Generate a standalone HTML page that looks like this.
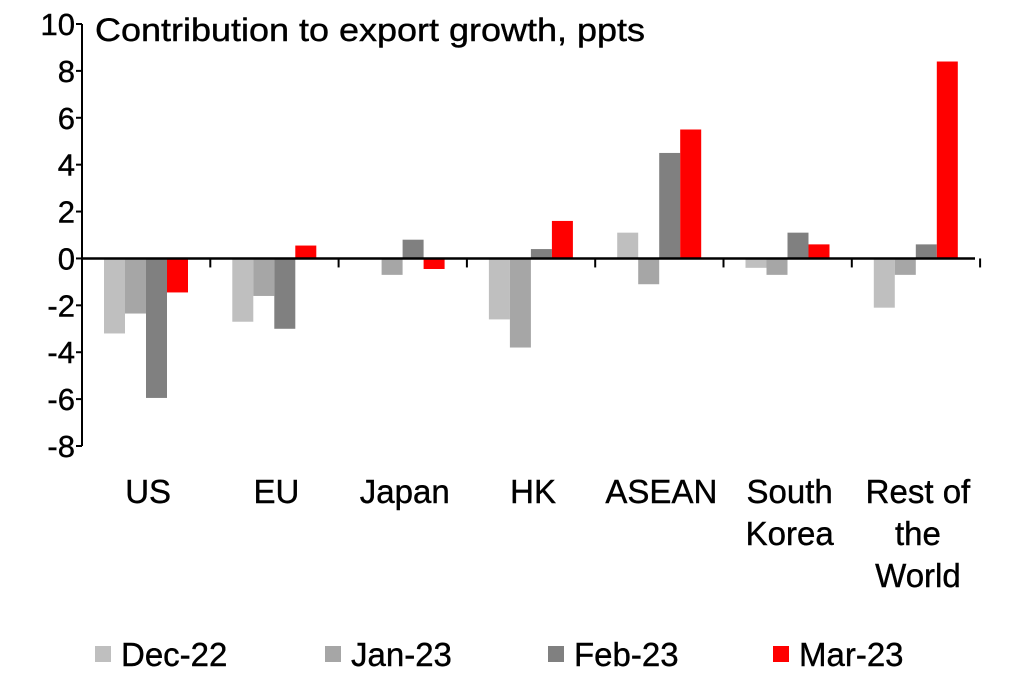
<!DOCTYPE html>
<html><head><meta charset="utf-8"><style>
body{margin:0;background:#fff;width:1022px;height:678px;overflow:hidden;font-family:"Liberation Sans",Arial,sans-serif;}
text{font-family:"Liberation Sans",Arial,sans-serif;fill:#000;stroke:#000;stroke-width:0.4;}
</style></head><body>
<svg id="chart" width="1022" height="678" xmlns="http://www.w3.org/2000/svg">
<text x="95" y="41" font-size="32" textLength="550" lengthAdjust="spacingAndGlyphs">Contribution to export growth, ppts</text>
<g id="bars"></g><g id="axes"></g><g id="legend"></g>
</svg>
<script>
const categories=[["US"],["EU"],["Japan"],["HK"],["ASEAN"],["South","Korea"],["Rest of","the","World"]];
const seriesNames=["Dec-22","Jan-23","Feb-23","Mar-23"];
const dec22=[-3.2,-2.7,-0.05,-2.6,1.1,-0.4,-2.1];
const jan23=[-2.35,-1.6,-0.7,-3.8,-1.1,-0.7,-0.7];
const feb23=[-5.95,-3.0,0.8,0.4,4.5,1.1,0.6];
const mar23=[-1.45,0.55,-0.45,1.6,5.5,0.6,8.4];
const yTicks=[10,8,6,4,2,0,-2,-4,-6,-8];
const colors=["#bfbfbf","#a6a6a6","#808080","#ff0000"];
const series=[dec22,jan23,feb23,mar23];
const NS="http://www.w3.org/2000/svg";
const x0=82,gw=128.3,yTop=24,yBot=446,vMax=10,vMin=-8;
function y(v){return yTop+(vMax-v)*(yBot-yTop)/(vMax-vMin);}
function gx(i){return x0+i*gw;}
function mk(tag,at,parent){const e=document.createElementNS(NS,tag);for(const k in at)e.setAttribute(k,at[k]);parent.appendChild(e);return e;}
const bars=document.getElementById('bars'),axes=document.getElementById('axes'),legend=document.getElementById('legend');
const bw=21;
series.forEach((s,si)=>{s.forEach((v,ci)=>{
 const bx=gx(ci)+22+si*bw;
 const r=mk('rect',{x:bx,y:Math.min(y(v),y(0)),width:bw,height:Math.abs(y(v)-y(0)),fill:colors[si]},bars);
 
 
});});
const ya=mk('line',{x1:x0,x2:x0,y1:yTop,y2:yBot,stroke:'#000','stroke-width':2},axes);


yTicks.forEach(t=>{
 const l=mk('line',{x1:x0-6,x2:x0,y1:y(t),y2:y(t),stroke:'#000','stroke-width':2},axes);
 
 
 const tx=mk('text',{x:x0-7,y:y(t)+11,'text-anchor':'end','font-size':31},axes);
 tx.textContent=t;
 
 
});
const xa=mk('line',{x1:x0,x2:975,y1:y(0),y2:y(0),stroke:'#000','stroke-width':2.5},axes);


categories.forEach((c,i)=>{
 const l=mk('line',{x1:gx(i+1),x2:gx(i+1),y1:y(0),y2:y(0)+9,stroke:'#000','stroke-width':2},axes);
 
 
 c.forEach((ln,k)=>{
  const tx=mk('text',{x:gx(i)+gw/2+2,y:503+k*42,'text-anchor':'middle','font-size':33},axes);
  tx.textContent=ln;
  
  
 });
});
const lx=[95,325,548,773];
seriesNames.forEach((n,i)=>{
 const r=mk('rect',{x:lx[i],y:646,width:16,height:16,fill:colors[i]},legend);
 
 
 const t=mk('text',{x:lx[i]+26,y:666,'font-size':33},legend);
 t.textContent=n;
 
 
});
</script>
</body></html>
